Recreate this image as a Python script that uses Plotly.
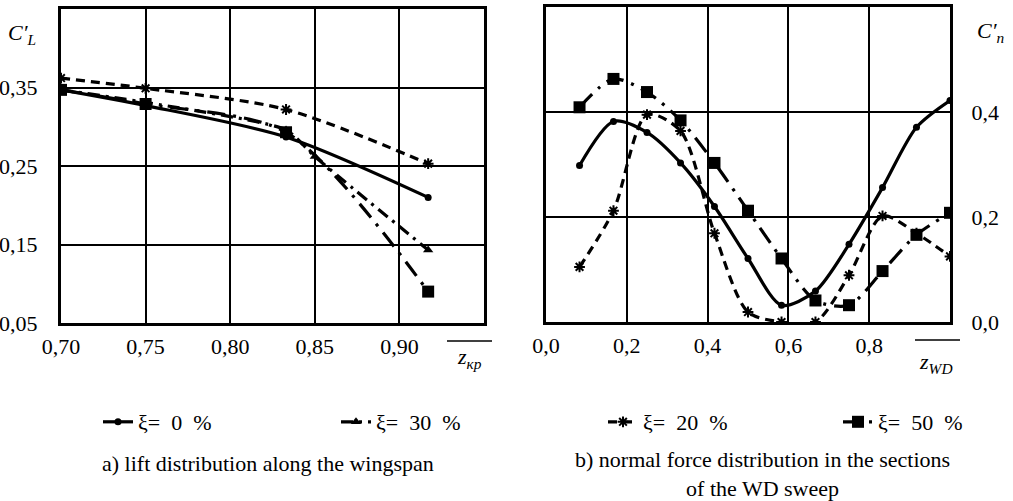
import plotly.graph_objects as go

# ---------- data: left panel (lift distribution along the wingspan) ----------
zkr = [0.70, 0.75, 0.833, 0.917]
cl_xi0 = [0.347, 0.327, 0.287, 0.210]
cl_xi20 = [0.362, 0.349, 0.322, 0.253]
zkr_xi30 = [0.70, 0.75, 0.833, 0.85, 0.917]
cl_xi30 = [0.347, 0.331, 0.296, 0.262, 0.143]
cl_xi50 = [0.347, 0.329, 0.293, 0.090]

# ---------- data: right panel (normal force distribution) ----------
zwd = [0.083, 0.167, 0.25, 0.333, 0.417, 0.5, 0.583, 0.667, 0.75, 0.833, 0.917, 1.0]
cn_xi0 = [0.298, 0.382, 0.361, 0.303, 0.220, 0.121, 0.032, 0.059, 0.148, 0.256, 0.371, 0.422]
cn_xi20 = [0.105, 0.212, 0.395, 0.364, 0.169, 0.019, 0.0, 0.0, 0.089, 0.202, 0.169, 0.125]
cn_xi50 = [0.409, 0.463, 0.438, 0.384, 0.303, 0.212, 0.121, 0.041, 0.032, 0.097, 0.166, 0.208]

# ---------- ticks ----------
lx_ticks = [0.70, 0.75, 0.80, 0.85, 0.90]
lx_text = ["0,70", "0,75", "0,80", "0,85", "0,90"]
ly_ticks = [0.05, 0.15, 0.25, 0.35]
ly_text = ["0,05", "0,15", "0,25", "0,35"]
rx_ticks = [0.0, 0.2, 0.4, 0.6, 0.8]
rx_text = ["0,0", "0,2", "0,4", "0,6", "0,8"]
ry_ticks = [0.0, 0.2, 0.4]
ry_text = ["0,0", "0,2", "0,4"]

names = {
    0: "ξ=\u00a0\u00a00\u00a0\u00a0%",
    20: "ξ=\u00a0\u00a020\u00a0\u00a0%",
    30: "ξ=\u00a0\u00a030\u00a0\u00a0%",
    50: "ξ=\u00a0\u00a050\u00a0\u00a0%",
}

SERIF = "Liberation Serif"
K = "black"
FS = 22

style = {
    0: dict(line=dict(color=K, width=3.2, shape="spline", smoothing=0.8),
            marker=dict(symbol="circle", size=7, color=K)),
    20: dict(line=dict(color=K, width=3.2, dash="9px,6px", shape="spline", smoothing=0.8),
             marker=dict(symbol="asterisk-open", size=9, color=K, line=dict(color=K, width=2))),
    30: dict(line=dict(color=K, width=3.2, dash="12px,6px,3px,6px", shape="spline", smoothing=0.6),
             marker=dict(symbol="triangle-up", size=9, color=K)),
    50: dict(line=dict(color=K, width=3.2, dash="18px,8px,3px,8px", shape="spline", smoothing=0.8),
             marker=dict(symbol="square", size=12, color=K)),
}

fig = go.Figure()

# left panel
fig.add_trace(go.Scatter(x=zkr, y=cl_xi20, mode="lines+markers", name=names[20],
                         xaxis="x", yaxis="y", showlegend=False, **style[20]))
fig.add_trace(go.Scatter(x=zkr_xi30, y=cl_xi30, mode="lines+markers", name=names[30],
                         xaxis="x", yaxis="y", legend="legend", legendrank=2, **style[30]))
fig.add_trace(go.Scatter(x=zkr, y=cl_xi50, mode="lines+markers", name=names[50],
                         xaxis="x", yaxis="y", showlegend=False, **style[50]))
fig.add_trace(go.Scatter(x=zkr, y=cl_xi0, mode="lines+markers", name=names[0],
                         xaxis="x", yaxis="y", legend="legend", legendrank=1, **style[0]))

# right panel
fig.add_trace(go.Scatter(x=zwd, y=cn_xi0, mode="lines+markers", name=names[0],
                         xaxis="x2", yaxis="y2", showlegend=False, **style[0]))
fig.add_trace(go.Scatter(x=zwd, y=cn_xi20, mode="lines+markers", name=names[20],
                         xaxis="x2", yaxis="y2", legend="legend2", legendrank=1, **style[20]))
fig.add_trace(go.Scatter(x=zwd, y=cn_xi50, mode="lines+markers", name=names[50],
                         xaxis="x2", yaxis="y2", legend="legend2", legendrank=2, **style[50]))

W, H = 1013, 501
tickfont = dict(family=SERIF, size=FS, color=K)
axis_common = dict(showline=True, linecolor=K, linewidth=3, mirror=True,
                   showgrid=True, gridcolor=K, gridwidth=2, zeroline=False,
                   ticks="", tickfont=tickfont, fixedrange=True, automargin=False)

legend_common = dict(orientation="h", yanchor="middle", y=1 - 422 / H,
                     font=dict(family=SERIF, size=FS, color=K), entrywidthmode="pixels",
                     bgcolor="rgba(0,0,0,0)", traceorder="normal", xanchor="left")

fig.update_layout(
    width=W, height=H,
    autosize=False,
    margin=dict(l=0, r=0, t=0, b=0, autoexpand=False),
    paper_bgcolor="white", plot_bgcolor="white",
    xaxis=dict(domain=[61 / W, 484 / W], anchor="y", range=[0.70, 0.95],
               tickvals=lx_ticks, ticktext=lx_text, ticklabelstandoff=2, **axis_common),
    yaxis=dict(domain=[1 - 323 / H, 1 - 9 / H], anchor="x", range=[0.05, 0.45],
               tickvals=ly_ticks, ticktext=ly_text, ticklabelstandoff=16, **axis_common),
    xaxis2=dict(domain=[546 / W, 950 / W], anchor="y2", range=[0.0, 1.0],
                tickvals=rx_ticks, ticktext=rx_text, ticklabelstandoff=2, **axis_common),
    yaxis2=dict(domain=[1 - 322 / H, 1 - 7 / H], anchor="x2", range=[0.0, 0.6], side="right",
                tickvals=ry_ticks, ticktext=ry_text, ticklabelstandoff=14, **axis_common),
    legend=dict(x=98 / W, entrywidth=193, **legend_common),
    legend2=dict(x=603 / W, entrywidth=190, **legend_common),
    showlegend=True,
)

ann_font = dict(family=SERIF, size=FS, color=K)


def ann(x, y, text, **kw):
    fig.add_annotation(x=x / W, y=1 - y / H, xref="paper", yref="paper", showarrow=False,
                       text=text, font=ann_font, xanchor="center", yanchor="middle", **kw)


ann(22, 34, "<i>C′<sub>L</sub></i>")
ann(991, 32, "<i>C′<sub>n</sub></i>")
ann(469, 358, "<i>z<sub>кр</sub></i>")
ann(936, 363, "<i>z<sub>WD</sub></i>")
fig.add_shape(type="line", xref="paper", yref="paper", x0=447 / W, x1=492 / W,
              y0=1 - 341 / H, y1=1 - 341 / H, line=dict(color=K, width=1.5))
fig.add_shape(type="line", xref="paper", yref="paper", x0=915 / W, x1=960 / W,
              y0=1 - 340 / H, y1=1 - 340 / H, line=dict(color=K, width=1.5))

ann(268, 463, "a) lift distribution along the wingspan")
ann(762, 474, "b) normal force distribution in the sections<br>of the WD sweep")

fig.write_html("out.html")
